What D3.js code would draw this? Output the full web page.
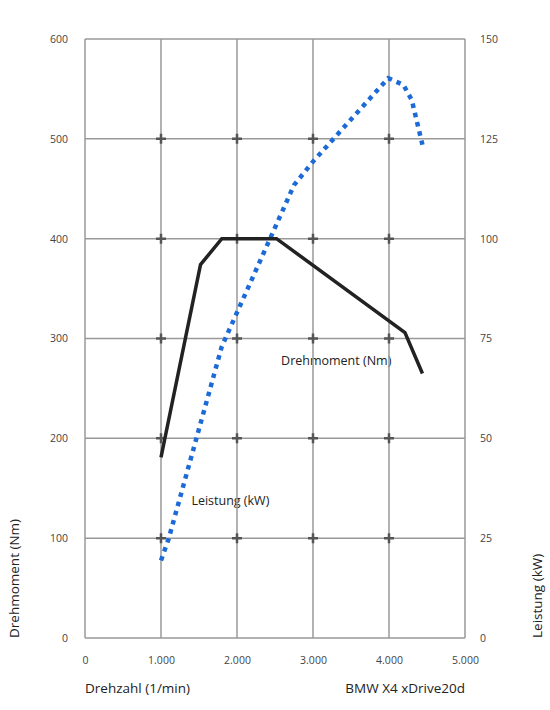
<!DOCTYPE html>
<html>
<head>
<meta charset="utf-8">
<script src="https://cdn.jsdelivr.net/npm/d3@7"></script>
<style>
  body { margin: 0; background: #fff; }
  text { font-family: "Open Sans", sans-serif; }
</style>
</head>
<body>
<div id="canvas"></div>
<script>
// tick values
var rpmTicks = [0, 1000, 2000, 3000, 4000, 5000];
var torqueTicks = [0, 100, 200, 300, 400, 500, 600];
var powerTicks = [0, 25, 50, 75, 100, 125, 150];

// Drehmoment (Nm)
var torqueRpm = [1000, 1520, 1800, 2520, 4210, 4440];
var torqueNm = [181, 374, 400, 400, 306, 265];

// Leistung (kW)
var powerRpm = [1000, 1100, 1800, 2750, 3000, 3990, 4190, 4300, 4440];
var powerKw = [19.4, 24.8, 73, 113.4, 119.3, 140.2, 138.5, 134.7, 123.5];

var W = 550, H = 710;
var m = {t: 39, r: 85, b: 72, l: 85},
    w = W - m.l - m.r,
    h = H - m.t - m.b;

var de = d3.formatLocale({decimal: ',', thousands: '.', grouping: [3], currency: ['', '€']});
var fmt = de.format(',');

var svg = d3.select('#canvas').append('svg')
    .attr('width', W)
    .attr('height', H);

var plot = svg.append('g')
    .attr('transform', 'translate(' + m.l + ',' + m.t + ')');

var x = d3.scaleLinear().domain([0, 5000]).range([0, w]);
var yL = d3.scaleLinear().domain([0, 600]).range([h, 0]);
var yR = d3.scaleLinear().domain([0, 150]).range([h, 0]);

// labels in the plot (under the grid)
plot.append('text')
    .attr('x', x(2580)).attr('y', yL(273))
    .attr('font-size', 12.5).attr('fill', '#222')
    .text('Drehmoment (Nm)');
plot.append('text')
    .attr('x', x(1400)).attr('y', yL(133))
    .attr('font-size', 12.5).attr('fill', '#222')
    .text('Leistung (kW)');

// grid
plot.selectAll('.vgrid')
    .data(rpmTicks)
    .enter().append('line').attr('class', 'vgrid')
    .attr('x1', d => x(d)).attr('x2', d => x(d))
    .attr('y1', 0).attr('y2', h)
    .attr('stroke', '#999').attr('stroke-width', 1.5);
plot.selectAll('.hgrid')
    .data(torqueTicks)
    .enter().append('line').attr('class', 'hgrid')
    .attr('x1', 0).attr('x2', w)
    .attr('y1', d => yL(d)).attr('y2', d => yL(d))
    .attr('stroke', '#999').attr('stroke-width', 1.5);

// crosses at inner intersections
var cross = [];
rpmTicks.slice(1, -1).forEach(function(r) {
    torqueTicks.slice(1, -1).forEach(function(t) { cross.push([r, t]); });
});
plot.selectAll('.cross')
    .data(cross)
    .enter().append('path').attr('class', 'cross')
    .attr('d', function(d) {
        var cx = x(d[0]), cy = yL(d[1]), s = 5;
        return 'M' + (cx - s) + ',' + cy + 'H' + (cx + s) + 'M' + cx + ',' + (cy - s) + 'V' + (cy + s);
    })
    .attr('stroke', '#555').attr('stroke-width', 2.5).attr('fill', 'none');

// axes (labels only)
var axL = plot.append('g')
    .call(d3.axisLeft(yL).tickValues(torqueTicks).tickSize(0).tickPadding(17));
var axR = plot.append('g')
    .attr('transform', 'translate(' + w + ',0)')
    .call(d3.axisRight(yR).tickValues(powerTicks).tickSize(0).tickPadding(15));
var axB = plot.append('g')
    .attr('transform', 'translate(0,' + h + ')')
    .call(d3.axisBottom(x).tickValues(rpmTicks).tickFormat(fmt).tickSize(0).tickPadding(19));
[axL, axR, axB].forEach(function(a) {
    a.select('.domain').remove();
    a.selectAll('text')
        .attr('font-family', '"Open Sans", sans-serif')
        .attr('font-size', 10.5)
        .attr('fill', '#444');
});

// curves
var torque = torqueRpm.map((r, i) => [r, torqueNm[i]]);
var power = powerRpm.map((r, i) => [r, powerKw[i]]);

plot.append('path')
    .datum(power)
    .attr('d', d3.line().x(d => x(d[0])).y(d => yR(d[1])))
    .attr('fill', 'none')
    .attr('stroke', '#1c6ad8')
    .attr('stroke-width', 4.5)
    .attr('stroke-dasharray', '4.5,5');

plot.append('path')
    .datum(torque)
    .attr('d', d3.line().x(d => x(d[0])).y(d => yL(d[1])))
    .attr('fill', 'none')
    .attr('stroke', '#222')
    .attr('stroke-width', 3.5)
    .attr('stroke-linejoin', 'miter');

// titles
svg.append('text')
    .attr('x', m.l).attr('y', 693)
    .attr('font-size', 13.5).attr('fill', '#222')
    .text('Drehzahl (1/min)');
svg.append('text')
    .attr('x', m.l + w).attr('y', 693)
    .attr('text-anchor', 'end')
    .attr('font-size', 13.5).attr('fill', '#222')
    .text('BMW X4 xDrive20d');
svg.append('text')
    .attr('transform', 'translate(19,' + (m.t + h) + ') rotate(-90)')
    .attr('text-anchor', 'start')
    .attr('font-size', 13.5).attr('fill', '#222')
    .text('Drehmoment (Nm)');
svg.append('text')
    .attr('transform', 'translate(542,' + (m.t + h) + ') rotate(-90)')
    .attr('text-anchor', 'start')
    .attr('font-size', 13.5).attr('fill', '#222')
    .text('Leistung (kW)');
</script>
</body>
</html>
